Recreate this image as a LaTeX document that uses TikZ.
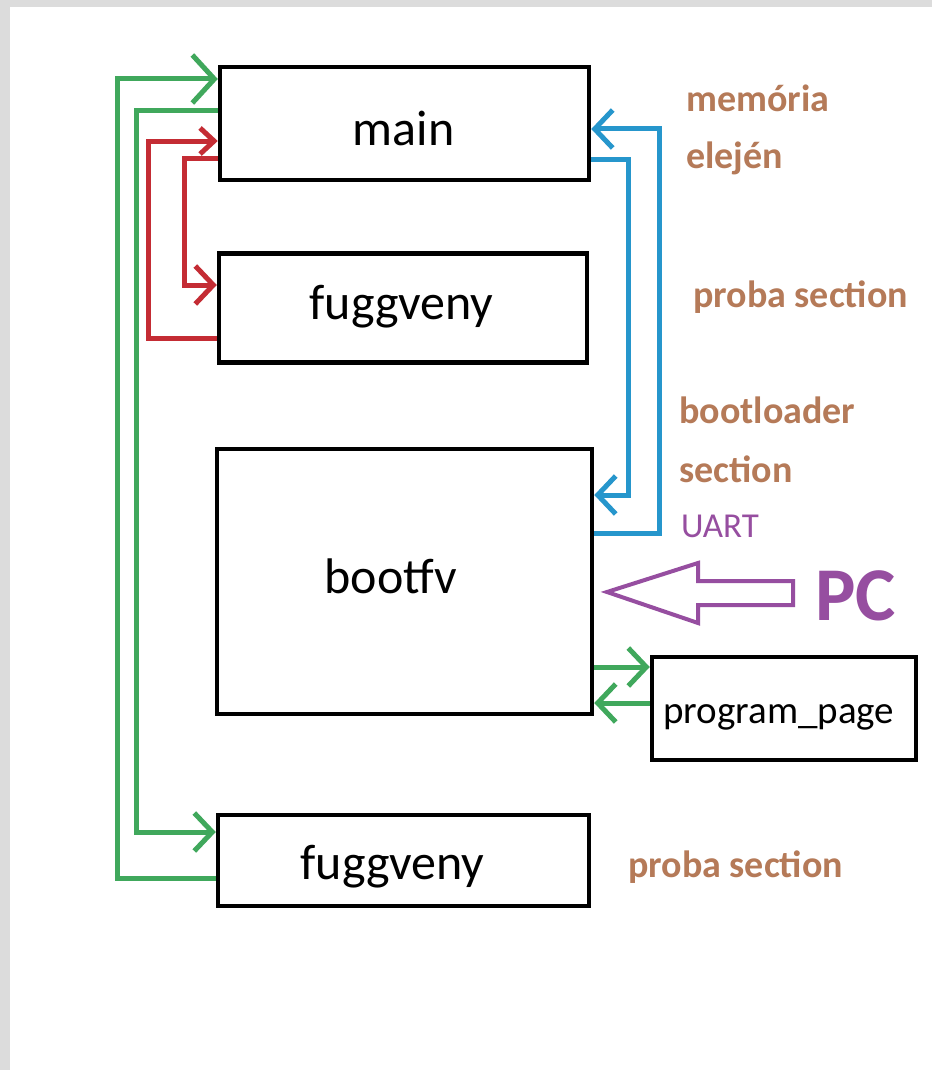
\documentclass[tikz,border=0pt]{standalone}
\usepackage{fontspec}
\setmainfont{Carlito}
\usetikzlibrary{arrows.meta}
\definecolor{cgreen}{RGB}{64,168,92}
\definecolor{cred}{RGB}{196,44,52}
\definecolor{cblue}{RGB}{38,150,204}
\definecolor{cpurple}{RGB}{150,78,160}
\definecolor{cbrown}{RGB}{181,122,88}
\definecolor{cborder}{RGB}{220,220,220}
\tikzset{
  box/.style={draw=black, line width=4.5pt, inner sep=0pt},
  boxtext/.style={anchor=base, inner sep=0pt, font=\fontsize{50}{60}\selectfont},
  lbl/.style={anchor=base west, inner sep=0pt, text=cbrown, font=\fontsize{38}{46}\selectfont\bfseries},
  wire/.style={line width=5pt},
  bigtip/.style={-{Straight Barb[length=22pt,width=48pt,line width=5pt]}},
  midtip/.style={-{Straight Barb[length=18pt,width=38pt,line width=5pt]}},
  smalltip/.style={-{Straight Barb[length=14pt,width=26pt,line width=5pt]}},
}
\begin{document}
\begin{tikzpicture}[x=1pt,y=-1pt]
\fill[cborder] (0,0) rectangle (932,1070);
\fill[white] (10,7) rectangle (932,1070);
\useasboundingbox (0,0) rectangle (932,1070);

% boxes
\node[box, minimum width=369pt, minimum height=113pt] (main) at (404.5,123.5) {};
\node[box, minimum width=368pt, minimum height=109pt] (fugg1) at (403,308) {};
\node[box, minimum width=375pt, minimum height=265pt] (boot) at (404.5,581.5) {};
\node[box, minimum width=264pt, minimum height=103pt] (pp) at (784,708.5) {};
\node[box, minimum width=371pt, minimum height=91pt] (fugg2) at (403.5,860.5) {};

% box texts
\node[boxtext] (tmain) at (403.5,145) {main};
\node[boxtext] (tfugg1) at (401.5,319) {fuggveny};
\node[boxtext] (tboot) at (391,593) {bootfv};
\node[boxtext] (tfugg2) at (392.5,879) {fuggveny};
\node[anchor=base west, inner sep=0pt, font=\fontsize{39}{47}\selectfont] (tpp) at (663,723) {program\_page};

% right labels
\node[lbl] (l1) at (686,112) {memória};
\node[lbl] (l2) at (686,168) {elején};
\node[lbl] (l3) at (693,307) {proba section};
\node[lbl] (l4) at (679,423) {bootloader};
\node[lbl] (l5) at (679,482) {section};
\node[anchor=base west, inner sep=0pt, text=cpurple, font=\fontsize{35}{42}\selectfont] (l6) at (681,537) {UART};
\node[lbl] (l7) at (628,877) {proba section};
\node[anchor=base west, inner sep=0pt, text=cpurple, font=\fontsize{76}{90}\selectfont\bfseries] (pc) at (815,620) {PC};

% green connectors
\draw[wire, cgreen, bigtip] (fugg2.west |- 0,878) -- (117,878) -- (117,79) -- (main.west |- 0,79);
\draw[wire, cgreen, midtip] (main.west |- 0,111) -- (136,111) -- (136,832) -- (fugg2.west |- 0,832);

% red connectors
\draw[wire, cred, smalltip] (fugg1.west |- 0,338) -- (148,338) -- (148,141) -- (main.west |- 0,141);
\draw[wire, cred, midtip] (main.west |- 0,158) -- (184,158) -- (184,285) -- (fugg1.west |- 0,285);

% blue connectors
\draw[wire, cblue, midtip] (boot.east |- 0,533) -- (659,533) -- (659,129) -- (main.east |- 0,129);
\draw[wire, cblue, midtip] (main.east |- 0,159) -- (628,159) -- (628,495) -- (boot.east |- 0,495);

% green to/from program_page
\draw[wire, cgreen, midtip] (boot.east |- 0,667) -- (pp.west |- 0,667);
\draw[wire, cgreen, midtip] (pp.west |- 0,703) -- (boot.east |- 0,703);

% hollow PC arrow
\draw[cpurple, line width=4pt, line join=miter] (607,592) -- (698,563) -- (698,581) -- (793,581) -- (793,605) -- (698,605) -- (698,623) -- cycle;
\end{tikzpicture}
\end{document}
